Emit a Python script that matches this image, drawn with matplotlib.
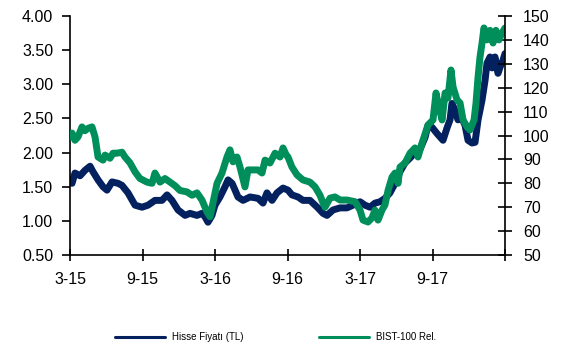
import matplotlib
matplotlib.use("Agg")
import numpy as np
import matplotlib.pyplot as plt

plt.rcParams['font.family'] = ['Liberation Sans', 'DejaVu Sans']

# months since March 2015
hisse_m = [0.0, 0.17, 0.41, 0.83, 1.24, 1.66, 1.90, 2.32, 2.73, 3.06, 3.48, 3.97, 4.30, 4.80,
           5.38, 5.96, 6.46, 7.03, 7.61, 8.03, 8.44, 8.94, 9.52, 9.93, 10.51, 10.92, 11.17,
           11.42, 11.75, 12.00, 12.41, 12.83, 13.08, 13.41, 13.66, 13.90, 14.32, 14.90, 15.56,
           15.97, 16.30, 16.72, 17.13, 17.63, 18.04, 18.37, 18.87, 19.28, 19.86, 20.52, 20.94,
           21.27, 21.77, 22.35, 22.92, 23.42, 24.00, 24.41, 24.83, 25.24, 25.66, 26.07, 26.48,
           26.90, 27.31, 27.73, 28.14, 28.55, 28.97, 29.38, 29.63, 29.96, 30.37, 30.87, 31.20,
           31.45, 31.61, 31.86, 32.11, 32.44, 32.69, 32.94, 33.27, 33.52, 33.77, 34.10, 34.35,
           34.51, 34.76, 34.93, 35.17, 35.42, 35.59, 35.83, 36.0]
hisse = [1.60, 1.55, 1.70, 1.66, 1.74, 1.80, 1.72, 1.60, 1.50, 1.45, 1.57, 1.55, 1.52, 1.41,
         1.23, 1.20, 1.23, 1.30, 1.30, 1.38, 1.30, 1.16, 1.08, 1.11, 1.08, 1.11, 1.06,
         0.98, 1.08, 1.23, 1.35, 1.50, 1.60, 1.55, 1.45, 1.35, 1.30, 1.35, 1.33,
         1.26, 1.41, 1.30, 1.41, 1.48, 1.45, 1.38, 1.35, 1.30, 1.30, 1.19, 1.11,
         1.08, 1.16, 1.19, 1.19, 1.23, 1.28, 1.23, 1.20, 1.26, 1.28, 1.33, 1.41,
         1.55, 1.72, 1.85, 1.92, 2.00, 2.05, 2.22, 2.40, 2.37, 2.28, 2.18, 2.36,
         2.48, 2.72, 2.62, 2.48, 2.50, 2.40, 2.18, 2.14, 2.15, 2.48, 2.77, 3.06,
         3.31, 3.40, 3.24, 3.40, 3.16, 3.25, 3.35, 3.45]

bist_m = [0.0, 0.17, 0.41, 0.66, 0.99, 1.24, 1.49, 1.82, 2.07, 2.32, 2.73, 2.90, 3.31, 3.56,
          3.89, 4.30, 4.55, 4.97, 5.38, 5.79, 6.37, 6.79, 7.03, 7.45, 7.86, 8.28, 8.69, 9.10,
          9.68, 10.10, 10.51, 10.92, 11.34, 11.59, 11.83, 12.17, 12.58, 12.99, 13.24, 13.49,
          13.82, 14.07, 14.48, 14.73, 15.15, 15.56, 15.89, 16.14, 16.55, 16.97, 17.38, 17.63,
          17.88, 18.04, 18.37, 18.79, 19.28, 19.86, 20.28, 20.69, 20.94, 21.10, 21.52, 21.93,
          22.35, 22.92, 23.59, 24.00, 24.25, 24.66, 24.99, 25.24, 25.49, 25.82, 26.07, 26.32,
          26.65, 26.90, 27.15, 27.31, 27.73, 28.14, 28.55, 28.80, 29.13, 29.63, 30.04, 30.29,
          30.46, 30.79, 31.04, 31.28, 31.53, 31.70, 32.03, 32.28, 32.53, 32.86, 33.10, 33.44,
          33.60, 33.77, 33.93, 34.10, 34.26, 34.51, 34.76, 35.01, 35.25, 35.50, 35.75, 36.0]
bist = [99.4, 101, 98, 99.4, 103.6, 102, 103, 103.6, 99.4, 91, 89.7, 91.8, 90.5, 92.6,
        92.6, 93, 91, 88.5, 84.8, 82, 80.5, 80, 84.3, 80.5, 82, 80.5, 79, 77,
        76.4, 75, 76, 73, 68, 66, 71.8, 80, 84.3, 91, 94, 89,
        91, 86.8, 78.5, 85.6, 85.6, 85.6, 84.3, 89.7, 88.5, 92.6, 91, 94.8,
        92, 91, 86.8, 83.5, 81.4, 80.5, 78.5, 75, 71.8, 70, 73.8, 74.3,
        73, 73, 72.3, 68.8, 64.6, 63.8, 65.5, 68.8, 64.6, 68.8, 71, 77,
        82.6, 84.3, 80, 86.8, 88.5, 92.6, 94.8, 91, 96.8, 104.4, 106.5, 117.8,
        113.6, 106.5, 117.8, 115.7, 127.4, 120.3, 114.9, 113.6, 106.5, 103.6, 102.3, 106.5,
        113.6, 124.5, 132.8, 138.7, 145, 140, 144, 138.7, 144, 140, 142.8, 145]

tick_m = [0, 6, 12, 18, 24, 30, 36]
tick_lbl = ['3-15', '9-15', '3-16', '9-16', '3-17', '9-17', '']

navy = '#03215E'
green = '#008F5B'

fig = plt.figure(figsize=(5.8, 3.44), dpi=100)
ax = fig.add_axes([0.1207, 0.2587, 0.75, 0.6948])
ax2 = ax.twinx()

ax.plot(hisse_m, hisse, color=navy, lw=5, solid_capstyle='round', solid_joinstyle='round',
        label='Hisse Fiyatı (TL)')
ax2.plot(bist_m, bist, color=green, lw=5, solid_capstyle='round', solid_joinstyle='round',
         label='BIST-100 Rel.')

ax.set_xlim(0, 36)
ax.set_ylim(0.5, 4.0)
ax2.set_ylim(50, 150)
ax.set_yticks(np.arange(0.5, 4.01, 0.5))
ax.set_yticklabels(['%.2f' % v for v in np.arange(0.5, 4.01, 0.5)])
ax2.set_yticks(np.arange(50, 151, 10))
ax.set_xticks(tick_m)
ax.set_xticklabels(tick_lbl)

for a in (ax, ax2):
    a.spines['top'].set_visible(False)
    for s in a.spines.values():
        s.set_linewidth(1.2)
ax.spines['right'].set_visible(False)
ax2.spines['left'].set_visible(False)
ax2.spines['bottom'].set_visible(False)

ax.tick_params(axis='y', direction='out', length=6, width=1.2, labelsize=11.5, pad=6)
ax.tick_params(axis='x', direction='inout', length=8, width=1.2, labelsize=11.5, pad=8)
ax2.tick_params(axis='y', direction='inout', length=10, width=1.2, labelsize=11.5, pad=8)

h1, l1 = ax.get_legend_handles_labels()
h2, l2 = ax2.get_legend_handles_labels()
leg = fig.legend(h1 + h2, l1 + l2, loc='center', bbox_to_anchor=(0.475, 1 - 337 / 344),
                 ncol=2, frameon=False, fontsize=7, handlelength=5.2, handletextpad=0.7,
                 columnspacing=7.7)
for ln in leg.get_lines():
    ln.set_linewidth(2.2)

fig.savefig('out.png', dpi=100)
